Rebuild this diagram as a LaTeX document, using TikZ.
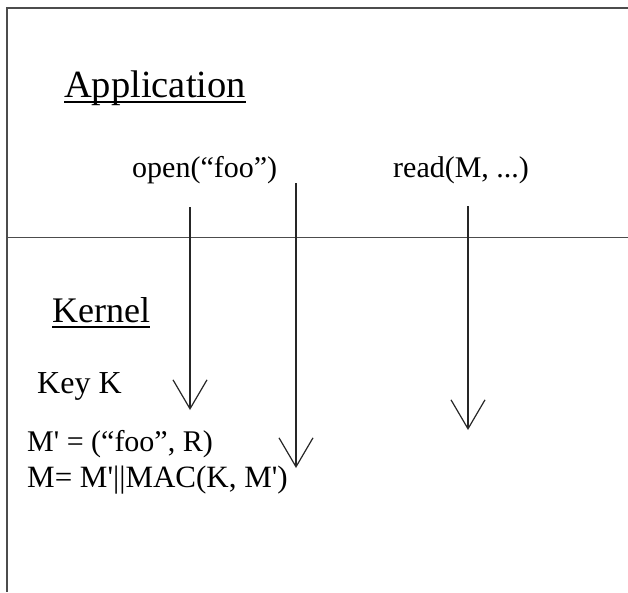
\documentclass[tikz,border=0pt]{standalone}
\usepackage{fontspec}
\setmainfont{Liberation Serif}
\usetikzlibrary{arrows.meta}
\newcommand{\sq}{\textquotesingle}
\begin{document}
\begin{tikzpicture}[x=1pt,y=-1pt,
  frame/.style={line width=1.6pt,draw=black!70},
  heading/.style={anchor=base west,inner sep=0pt},
  label/.style={anchor=base west,inner sep=0pt,font=\fontsize{30}{34}\selectfont},
  ul/.style={line width=1.8pt},
  call/.style={line width=1.2pt,draw=black!85,-{Straight Barb[length=29pt,width=34pt,line width=1.2pt]}}]
\useasboundingbox (0,0) rectangle (628,592);
% frame and layer boundary
\coordinate (tl) at (7,8);
\coordinate (tr) at (628,8);
\coordinate (bl) at (7,592);
\coordinate (ml) at (7,237.5);
\coordinate (mr) at (628,237.5);
\draw[frame] (tr) -- (tl) -- (bl);
\draw[frame] (ml) -- (mr);
% headings
\node[heading,font=\fontsize{38.5}{42}\selectfont] (app) at (64,97) {Application};
\draw[ul] ([yshift=-5pt]app.base west) -- ([yshift=-5pt]app.base east);
\node[heading,font=\fontsize{36}{40}\selectfont] (kern) at (52,322) {Kernel};
\draw[ul] ([yshift=-5pt]kern.base west) -- ([yshift=-5pt]kern.base east);
% labels
\node[label] (open) at (132,177) {open(“foo”)};
\node[label] (read) at (393,177) {read(M, ...)};
\node[label,font=\fontsize{32}{36}\selectfont] (key) at (37,393) {Key K};
\node[label] (mp) at (27,451) {M\sq{} = (“foo”, R)};
\node[label,font=\fontsize{31}{35}\selectfont] (m) at (27,487) {M= M\sq||MAC(K, M\sq)};
% system call arrows
\coordinate (a1s) at (190,207);
\coordinate (a1e) at (190,410);
\coordinate (a2s) at (296,183);
\coordinate (a2e) at (296,468);
\coordinate (a3s) at (468,206);
\coordinate (a3e) at (468,430);
\draw[call] (a1s) -- (a1e);
\draw[call] (a2s) -- (a2e);
\draw[call] (a3s) -- (a3e);
\end{tikzpicture}
\end{document}
